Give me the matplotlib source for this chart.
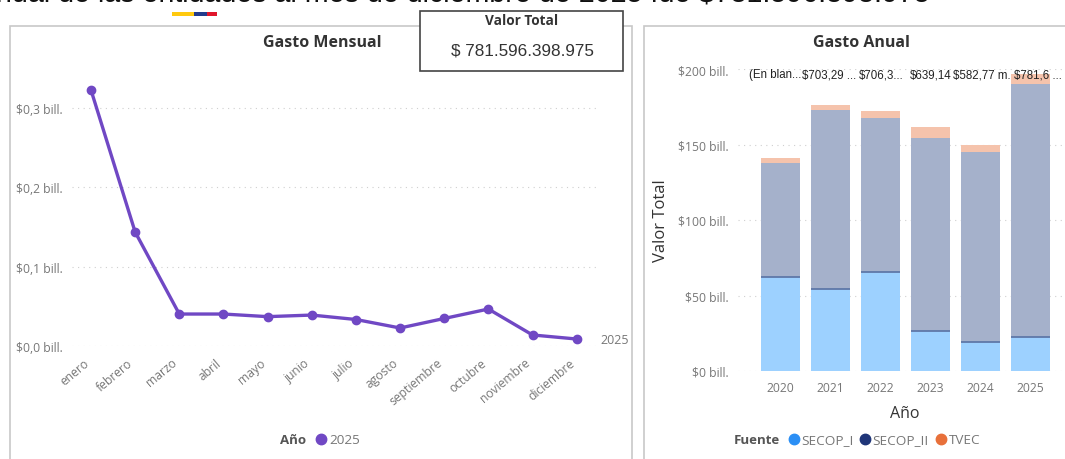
import matplotlib
matplotlib.use("Agg")
import matplotlib.pyplot as plt
from matplotlib.patches import Rectangle
from matplotlib.transforms import ScaledTranslation

plt.rcParams["font.family"] = ["Open Sans", "DejaVu Sans"]

W, H = 1065, 460

# monthly chart
months = ["enero", "febrero", "marzo", "abril", "mayo", "junio", "julio", "agosto",
          "septiembre", "octubre", "noviembre", "diciembre"]
monthly = [0.3227, 0.1437, 0.0403, 0.0403, 0.0370, 0.0390, 0.0334, 0.0227,
           0.0347, 0.0466, 0.0139, 0.0088]
monthly_ticks = [0.0, 0.1, 0.2, 0.3]
monthly_labels = ["$0,0 bill.", "$0,1 bill.", "$0,2 bill.", "$0,3 bill."]

# yearly chart, values in bill.
years = ["2020", "2021", "2022", "2023", "2024", "2025"]
secop_1 = [62, 54, 65.5, 26.5, 19, 22.5]
secop_2 = [76, 118.8, 102, 127.5, 126, 167.5]
tvec = [3, 3.2, 4.5, 7.5, 4.5, 7]
year_totals = ["(En blan...", "$703,29 ...", "$706,3...", "$639,14", "$582,77 m.", "$781,6 ..."]
year_ticks = [0, 50, 100, 150, 200]
year_labels = ["$0 bill.", "$50 bill.", "$100 bill.", "$150 bill.", "$200 bill."]

GREY = "#777777"
PURPLE = "#7048C4"


def px_axes(fig, left, top, right, bottom):
    return fig.add_axes([left / W, 1 - bottom / H, (right - left) / W, (bottom - top) / H])


fig = plt.figure(figsize=(W / 100, H / 100), dpi=100)

# page layer in pixel coordinates: panels, flag, cut-off headline
page = fig.add_axes([0, 0, 1, 1], zorder=0)
page.set_xlim(0, W)
page.set_ylim(H, 0)
page.axis("off")
page.add_patch(Rectangle((10, 27), 622, 440, fc="white", ec="#c8c8c8", lw=1.2))
page.add_patch(Rectangle((644, 27), 440, 440, fc="white", ec="#c8c8c8", lw=1.2))
page.add_patch(Rectangle((172, 13), 22, 4, fc="#FFC90E", lw=0))
page.add_patch(Rectangle((194, 13), 13, 4, fc="#233C8C", lw=0))
page.add_patch(Rectangle((207, 13), 10, 4, fc="#E0162B", lw=0))
page.text(930, 1, "anual de las entidades al mes de diciembre de 2025 fue $781.596.398.975",
          fontsize=20.6, family="Liberation Sans", color="#111111", va="baseline", ha="right")
page.text(322, 43, "Gasto Mensual", fontsize=11.5, fontweight="bold", color="#333333",
          ha="center", va="center")
page.text(861, 43, "Gasto Anual", fontsize=11.5, fontweight="bold", color="#333333",
          ha="center", va="center")

# line chart
ax = px_axes(fig, 72, 70, 597, 347)
ax.set_zorder(1)
ax.patch.set_alpha(0)
x = list(range(len(months)))
ax.plot(x, monthly, color=PURPLE, lw=2.4, marker="o", ms=6, clip_on=False)
ax.set_xlim(-0.43, 11.46)
ax.set_ylim(0, 277 / 793.3)
ax.set_yticks(monthly_ticks, monthly_labels)
ax.set_xticks(x, months)
ax.grid(axis="y", color="#cfcfcf", ls=(0, (1, 4)), lw=0.8)
ax.set_axisbelow(True)
ax.tick_params(axis="both", length=0, colors=GREY, labelsize=8.7)
ax.tick_params(axis="y", pad=7)
ax.tick_params(axis="x", pad=7)
shift = ScaledTranslation(-8 / 100, 0, fig.dpi_scale_trans)
for lab in ax.get_xticklabels():
    lab.set_rotation(40)
    lab.set_ha("right")
    lab.set_rotation_mode("anchor")
    lab.set_transform(lab.get_transform() + shift)
for s in ax.spines.values():
    s.set_visible(False)
ax.annotate("2025", (x[-1], monthly[-1]), xytext=(17, 0), textcoords="offset points",
            color=GREY, fontsize=9, va="center", ha="left", annotation_clip=False)

# monthly legend
page.text(293, 441, "Año", fontsize=9.5, fontweight="bold", color="#555555", ha="center", va="center")
page.plot([321], [440], "o", color=PURPLE, ms=7.5)
page.text(344.5, 441, "2025", fontsize=9.7, color=GREY, ha="center", va="center")

# stacked bars
ax2 = px_axes(fig, 738, 70, 1062, 372)
ax2.set_zorder(1)
ax2.patch.set_alpha(0)
bx = list(range(len(years)))
bw = 0.78
top_1 = secop_1
top_2 = [a + b for a, b in zip(secop_1, secop_2)]
ax2.bar(bx, secop_1, bw, color="#9DD1FF")
ax2.bar(bx, secop_2, bw, bottom=top_1, color="#A5B1CB")
ax2.bar(bx, tvec, bw, bottom=top_2, color="#F5C3AC")
ax2.hlines(top_1, [i - bw / 2 for i in bx], [i + bw / 2 for i in bx], color="#5F78A8", lw=1.3)
ax2.set_xlim(-0.84, 5.63)
ax2.set_ylim(0, 200)
ax2.set_yticks(year_ticks, year_labels)
ax2.set_xticks(bx, years)
ax2.grid(axis="y", color="#cfcfcf", ls=(0, (1, 4)), lw=0.8)
ax2.set_axisbelow(True)
ax2.tick_params(axis="both", length=0, colors=GREY, labelsize=8.7)
ax2.tick_params(axis="y", pad=7)
ax2.tick_params(axis="x", pad=7)
for s in ax2.spines.values():
    s.set_visible(False)
ax2.set_xlabel("Año", fontsize=11.5, color="#333333", labelpad=8, x=0.515)
ax2.set_ylabel("Valor Total", fontsize=12, color="#333333", labelpad=6)
label_nudge = [-0.09, -0.02, 0.03, 0, 0.02, 0.15]
for i, t, dx in zip(bx, year_totals, label_nudge):
    ax2.text(i + dx, 196.5, t, fontsize=8.3, family="Liberation Sans", color="#222222", ha="center", va="center")

# yearly legend
page.text(757, 441, "Fuente", fontsize=9.5, fontweight="bold", color="#555555", ha="center", va="center")
legend_items = [("SECOP_I", "#2B8FF5", 794, 827), ("SECOP_II", "#1F3578", 865, 900.5), ("TVEC", "#E8703A", 941, 965)]
for name, col, mx, tx in legend_items:
    page.plot([mx], [440], "o", color=col, ms=7.5)
    page.text(tx, 441, name, fontsize=9.7, color=GREY, ha="center", va="center")

# KPI card on top of everything
card = fig.add_axes([0, 0, 1, 1], zorder=3)
card.set_xlim(0, W)
card.set_ylim(H, 0)
card.axis("off")
card.add_patch(Rectangle((420, 12), 203, 60, fc="white", ec="#444444", lw=1.2))
card.text(522, 21, "Valor Total", fontsize=9.8, fontweight="bold", color="#333333", ha="center", va="center")
card.text(522, 51, "$ 781.596.398.975", fontsize=12.3, family="Liberation Sans", color="#333333", ha="center", va="center")

fig.savefig("out.png", dpi=100)
